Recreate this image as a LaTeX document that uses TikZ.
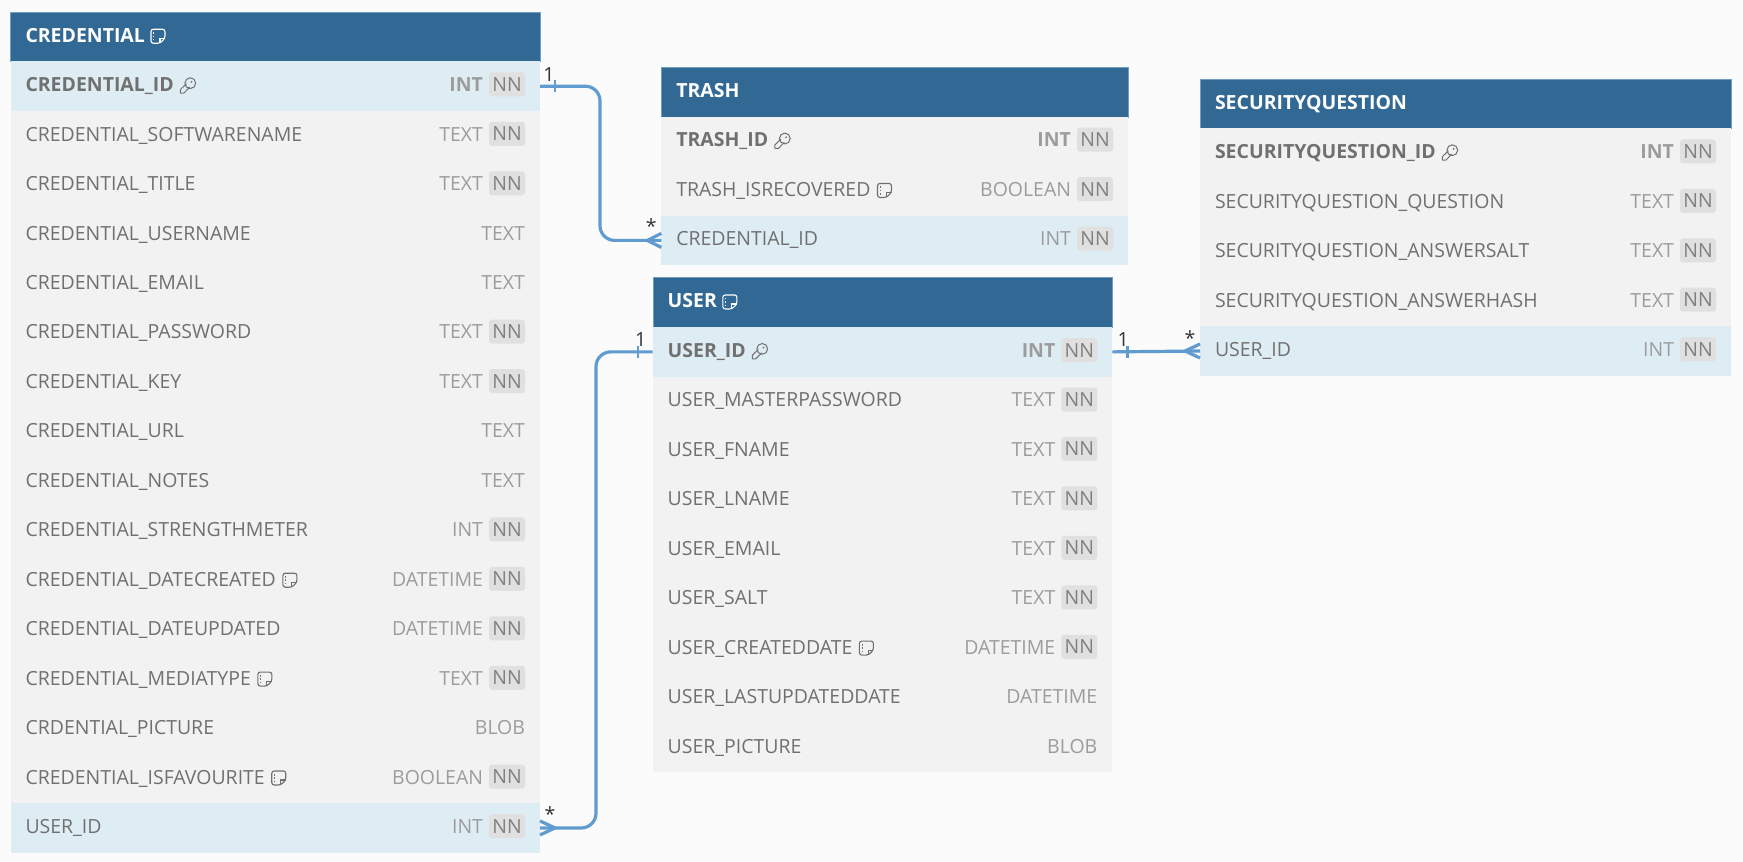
\documentclass[tikz,border=0pt]{standalone}
\usepackage{fontspec}
\setmainfont{Open Sans}
\definecolor{bgc}{HTML}{FBFBFB}
\definecolor{headc}{HTML}{316894}
\definecolor{headedge}{HTML}{6FA0C4}
\definecolor{plainrowc}{HTML}{F2F2F2}
\definecolor{fkrowc}{HTML}{DEECF4}
\definecolor{namec}{HTML}{707070}
\definecolor{typec}{HTML}{9C9C9C}
\definecolor{nnbox}{HTML}{E0E0E0}
\definecolor{nntext}{HTML}{808080}
\definecolor{relc}{HTML}{609CD0}
\tikzset{
  px/.style={x=0.75pt,y=-0.75pt},
  tablerow/.style={inner sep=0pt,outer sep=0pt,anchor=north west,minimum height=49.5*0.75pt,minimum width=\Tw*0.75pt},
  plainrow/.style={tablerow,fill=plainrowc},
  fkrow/.style={tablerow,fill=fkrowc},
  headrow/.style={tablerow,fill=headc,draw=headedge,line width=0.3pt},
  fieldtext/.style={inner sep=0pt,outer sep=0pt,anchor=base west,text=namec,font=\fontsize{14.6}{17}\selectfont},
  typetext/.style={inner sep=0pt,outer sep=0pt,anchor=base east,text=typec,font=\fontsize{14.6}{17}\selectfont},
  headtext/.style={inner sep=0pt,outer sep=0pt,anchor=base west,text=white,font=\fontsize{14.6}{17}\selectfont\bfseries},
  nntag/.style={inner sep=0pt,outer sep=0pt,anchor=east,fill=nnbox,text=nntext,rounded corners=2.2pt,minimum width=36*0.75pt,minimum height=24*0.75pt,font=\fontsize{14.6}{17}\selectfont},
  rel/.style={draw=relc,line width=2.4pt,line join=round},
  relline/.style={rel,rounded corners=11pt},
  card/.style={inner sep=0pt,outer sep=0pt,text=black!80,font=\fontsize{14.6}{17}\selectfont},
  keyicon/.pic={
    \draw[line width=0.75pt,line join=round] (-7.5,7.5) -- (-7.5,4) -- (-1.4,-2);
    \draw[line width=0.75pt] (-7.5,7.5) -- (-4,7.5) -- (2,1.4);
    \draw[line width=0.75pt] (2.5,-2.5) circle[radius=5.4];
    \fill (3.8,-3.8) circle[radius=1];
  },
  noteicon/.pic={
    \draw[line width=0.85pt,rounded corners=1.8pt] (-7,-7) -- (7,-7) -- (7,2) -- (2,7) -- (-7,7) -- cycle;
    \draw[line width=0.85pt] (7,2) -- (2,2) -- (2,7);
    \draw[line width=0.85pt] (-4.2,-4) -- (-4.2,-2.5) (-4.2,-0.7) -- (-4.2,0.8) (-4.2,2.6) -- (-4.2,4.1);
  },
}
% table head: id, text, icon flag (0 none, 1 note)
\newcommand{\ehead}[3]{%
  \node[headrow] (#1) at (\Tx,\Ty) {};
  \node[headtext] (#1l) at ([shift={(15,5.5)}]#1.west) {#2};
  \ifnum#3=1 \pic[color=white] at ([shift={(13,-6)}]#1l.base east) {noteicon};\fi
}
% row: id, index, row style, weight, label, type, nn flag, icon (0 none, 1 key, 2 note)
\newcommand{\erow}[8]{%
  \pgfmathsetmacro{\Ry}{\Ty+49.45+49.45*#2}
  \node[#3] (#1) at (\Tx,\Ry) {};
  \node[fieldtext] (#1l) at ([shift={(15,5.5)}]#1.west) {#4#5};
  \ifnum#8=1 \pic[color=namec] at ([shift={(14,-6)}]#1l.base east) {keyicon};\fi
  \ifnum#8=2 \pic[color=namec] at ([shift={(14,-6)}]#1l.base east) {noteicon};\fi
  \ifnum#7=1
    \node[nntag] (#1n) at ([shift={(-15,-1.8)}]#1.east) {NN};
    \node[typetext] (#1t) at ([shift={(-6,7.3)}]#1n.west) {#4#6};
  \else
    \node[typetext] (#1t) at ([shift={(-15,5.5)}]#1.east) {#4#6};
  \fi
}
\begin{document}
\begin{tikzpicture}[px]
\useasboundingbox (0,0) rectangle (1743,862);
\fill[bgc] (0,0) rectangle (1743,862);

% CREDENTIAL
\def\Tx{10.5}\def\Ty{12}\def\Tw{529.5}
\ehead{cred}{CREDENTIAL}{1}
\erow{c1}{0}{fkrow}{\bfseries}{CREDENTIAL\_ID}{INT}{1}{1}
\erow{c2}{1}{plainrow}{}{CREDENTIAL\_SOFTWARENAME}{TEXT}{1}{0}
\erow{c3}{2}{plainrow}{}{CREDENTIAL\_TITLE}{TEXT}{1}{0}
\erow{c4}{3}{plainrow}{}{CREDENTIAL\_USERNAME}{TEXT}{0}{0}
\erow{c5}{4}{plainrow}{}{CREDENTIAL\_EMAIL}{TEXT}{0}{0}
\erow{c6}{5}{plainrow}{}{CREDENTIAL\_PASSWORD}{TEXT}{1}{0}
\erow{c7}{6}{plainrow}{}{CREDENTIAL\_KEY}{TEXT}{1}{0}
\erow{c8}{7}{plainrow}{}{CREDENTIAL\_URL}{TEXT}{0}{0}
\erow{c9}{8}{plainrow}{}{CREDENTIAL\_NOTES}{TEXT}{0}{0}
\erow{c10}{9}{plainrow}{}{CREDENTIAL\_STRENGTHMETER}{INT}{1}{0}
\erow{c11}{10}{plainrow}{}{CREDENTIAL\_DATECREATED}{DATETIME}{1}{2}
\erow{c12}{11}{plainrow}{}{CREDENTIAL\_DATEUPDATED}{DATETIME}{1}{0}
\erow{c13}{12}{plainrow}{}{CREDENTIAL\_MEDIATYPE}{TEXT}{1}{2}
\erow{c14}{13}{plainrow}{}{CRDENTIAL\_PICTURE}{BLOB}{0}{0}
\erow{c15}{14}{plainrow}{}{CREDENTIAL\_ISFAVOURITE}{BOOLEAN}{1}{2}
\erow{c16}{15}{fkrow}{}{USER\_ID}{INT}{1}{0}

% TRASH
\def\Tx{661.3}\def\Ty{67.3}\def\Tw{466.7}
\ehead{trash}{TRASH}{0}
\erow{t1}{0}{plainrow}{\bfseries}{TRASH\_ID}{INT}{1}{1}
\erow{t2}{1}{plainrow}{}{TRASH\_ISRECOVERED}{BOOLEAN}{1}{2}
\erow{t3}{2}{fkrow}{}{CREDENTIAL\_ID}{INT}{1}{0}

% USER
\def\Tx{652.7}\def\Ty{277.7}\def\Tw{459.6}
\ehead{user}{USER}{1}
\erow{u1}{0}{fkrow}{\bfseries}{USER\_ID}{INT}{1}{1}
\erow{u2}{1}{plainrow}{}{USER\_MASTERPASSWORD}{TEXT}{1}{0}
\erow{u3}{2}{plainrow}{}{USER\_FNAME}{TEXT}{1}{0}
\erow{u4}{3}{plainrow}{}{USER\_LNAME}{TEXT}{1}{0}
\erow{u5}{4}{plainrow}{}{USER\_EMAIL}{TEXT}{1}{0}
\erow{u6}{5}{plainrow}{}{USER\_SALT}{TEXT}{1}{0}
\erow{u7}{6}{plainrow}{}{USER\_CREATEDDATE}{DATETIME}{1}{2}
\erow{u8}{7}{plainrow}{}{USER\_LASTUPDATEDDATE}{DATETIME}{0}{0}
\erow{u9}{8}{plainrow}{}{USER\_PICTURE}{BLOB}{0}{0}

% SECURITYQUESTION
\def\Tx{1200}\def\Ty{79}\def\Tw{531}
\ehead{secq}{SECURITYQUESTION}{0}
\erow{s1}{0}{plainrow}{\bfseries}{SECURITYQUESTION\_ID}{INT}{1}{1}
\erow{s2}{1}{plainrow}{}{SECURITYQUESTION\_QUESTION}{TEXT}{1}{0}
\erow{s3}{2}{plainrow}{}{SECURITYQUESTION\_ANSWERSALT}{TEXT}{1}{0}
\erow{s4}{3}{plainrow}{}{SECURITYQUESTION\_ANSWERHASH}{TEXT}{1}{0}
\erow{s5}{4}{fkrow}{}{USER\_ID}{INT}{1}{0}

% connectors
\coordinate (bendA) at (600,0);
\coordinate (bendB) at (596,0);
\draw[relline] (c1.east) -- (c1.east -| bendA) -- (t3.west -| bendA) -- (t3.west);
\draw[relline] (u1.west) -- (u1.west -| bendB) -- (c16.east -| bendB) -- (c16.east);
\draw[rel] (u1.east) -- (s5.west);

% one-ends
\draw[rel,line width=1.8pt] ([shift={(15,-6)}]c1.east) -- ([shift={(15,6)}]c1.east);
\draw[rel,line width=1.8pt] ([shift={(-15,-6)}]u1.west) -- ([shift={(-15,6)}]u1.west);
\draw[rel,line width=1.8pt] ([shift={(15,-6)}]u1.east) -- ([shift={(15,6)}]u1.east);

% many-ends
\draw[rel] ([shift={(0,-7)}]t3.west) -- ([xshift=-14*0.75pt]t3.west) -- ([shift={(0,7)}]t3.west);
\draw[rel] ([shift={(0,-7)}]s5.west) -- ([xshift=-15*0.75pt]s5.west) -- ([shift={(0,7)}]s5.west);
\draw[rel] ([shift={(0,-7)}]c16.east) -- ([xshift=15*0.75pt]c16.east) -- ([shift={(0,7)}]c16.east);

% cardinalities
\node[card] (k1) at ([shift={(9,-12)}]c1.east) {1};
\node[card] (k2) at ([shift={(-10,-14)}]t3.west) {*};
\node[card] (k3) at ([shift={(-12,-12)}]u1.west) {1};
\node[card] (k4) at ([shift={(10,-14)}]c16.east) {*};
\node[card] (k5) at ([shift={(11,-12)}]u1.east) {1};
\node[card] (k6) at ([shift={(-10,-13)}]s5.west) {*};
\end{tikzpicture}
\end{document}
